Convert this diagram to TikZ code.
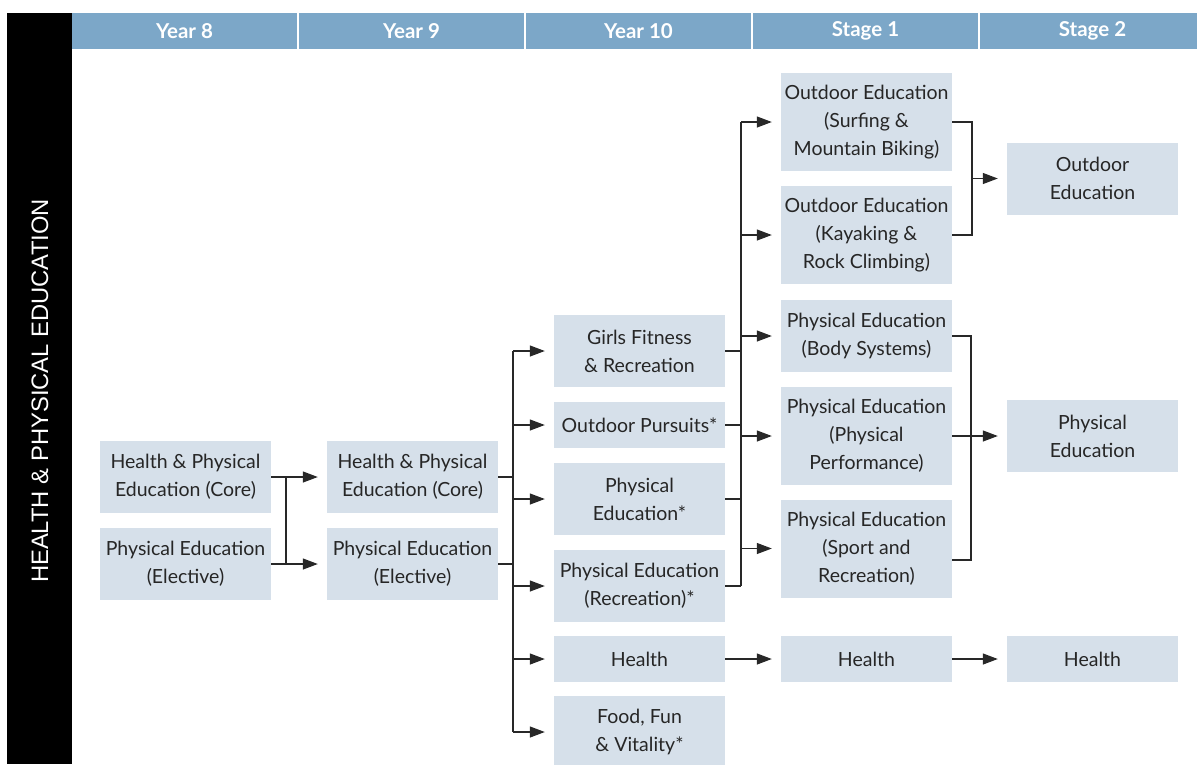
\documentclass[tikz,border=0pt]{standalone}
\usepackage{fontspec}
\setmainfont{Lato}
\newfontfamily\sidefont{Liberation Sans}
\usetikzlibrary{arrows.meta}

\definecolor{headblue}{RGB}{124,167,200}
\definecolor{boxblue}{RGB}{214,224,234}
\definecolor{linegrey}{RGB}{40,40,40}

% column centres of the course boxes
\def\colA{185.5}
\def\colB{412.5}
\def\colC{639.5}
\def\colD{866.5}
\def\colE{1092.5}

\begin{document}
\begin{tikzpicture}[x=1pt,y=-1pt,
  course/.style={fill=boxblue, text=black!85, minimum width=171pt, minimum height=72pt,
    inner sep=0pt, align=center, font=\fontsize{19.5}{28}\selectfont},
  oneline/.style={minimum height=46pt},
  threeline/.style={minimum height=98pt},
  yearhead/.style={fill=headblue, text=white, minimum width=225pt, minimum height=36pt,
    inner sep=0pt, font=\fontsize{20.5}{22}\selectfont\bfseries},
  link/.style={draw=linegrey, line width=1.2pt},
  feed/.style={link, -{Triangle[length=15pt,width=11pt]}, shorten >=9pt}]
  \useasboundingbox (0,0) rectangle (1197,764);

  % side bar and year headings
  \fill[black] (7,13) rectangle (72,764);
  \node[rotate=90, text=white, font=\sidefont\fontsize{23.8}{24}\selectfont] (side) at (40,391)
    {HEALTH \& PHYSICAL EDUCATION};
  \foreach \lbl [count=\i] in {Year 8, Year 9, Year 10, Stage 1, Stage 2}
    \node[yearhead] (head\i) at ({184.5+227*(\i-1)},31) {\lbl};

  % Year 8 and Year 9
  \node[course] (y8core) at (\colA,477) {Health \& Physical\\Education (Core)};
  \node[course] (y8elec) at (\colA,564) {Physical Education\\(Elective)};
  \node[course] (y9core) at (\colB,477) {Health \& Physical\\Education (Core)};
  \node[course] (y9elec) at (\colB,564) {Physical Education\\(Elective)};

  % Year 10
  \node[course] (girls) at (\colC,351) {Girls Fitness\\\& Recreation};
  \node[course, oneline] (outdoor) at (\colC,425) {Outdoor Pursuits*};
  \node[course] (pe) at (\colC,499) {Physical\\Education*};
  \node[course] (perec) at (\colC,586) {Physical Education\\(Recreation)*};
  \node[course, oneline] (health) at (\colC,659) {Health};
  \node[course] (food) at (\colC,732) {Food, Fun\\\& Vitality*};

  % Stage 1
  \node[course, threeline] (surf) at (\colD,122) {Outdoor Education\\(Surfing \&\\Mountain Biking)};
  \node[course, threeline] (kayak) at (\colD,235) {Outdoor Education\\(Kayaking \&\\Rock Climbing)};
  \node[course] (body) at (\colD,336) {Physical Education\\(Body Systems)};
  \node[course, threeline] (perf) at (\colD,436) {Physical Education\\(Physical\\Performance)};
  \node[course, threeline] (sport) at (\colD,548.5) {Physical Education\\(Sport and\\Recreation)};
  \node[course, oneline] (s1health) at (\colD,659) {Health};

  % Stage 2
  \node[course] (s2oe) at (\colE,178.5) {Outdoor\\Education};
  \node[course] (s2pe) at (\colE,436) {Physical\\Education};
  \node[course, oneline] (s2health) at (\colE,659) {Health};

  % Year 8 to Year 9
  \coordinate (j8a) at (286,477);
  \coordinate (j8b) at (286,564);
  \draw[link] (y8core.east) -- (j8a) -- (j8b) -- (y8elec.east);
  \draw[feed] (j8a) -- (y9core.west);
  \draw[feed] (j8b) -- (y9elec.west);

  % Year 9 to Year 10
  \coordinate (t9) at (513,351);
  \coordinate (b9) at (513,732);
  \draw[link] (t9) -- (b9);
  \draw[link] (y9core.east) -- (y9core.east -| t9);
  \draw[link] (y9elec.east) -- (y9elec.east -| t9);
  \foreach \n in {girls,outdoor,pe,perec,health,food}
    \draw[feed] (\n.west -| t9) -- (\n.west);

  % Year 10 to Stage 1
  \coordinate (t10) at (741,122);
  \coordinate (b10) at (741,586);
  \draw[link] (t10) -- (b10);
  \foreach \n in {girls,outdoor,pe,perec}
    \draw[link] (\n.east) -- (\n.east -| t10);
  \foreach \n in {surf,kayak,body,perf,sport}
    \draw[feed] (\n.west -| t10) -- (\n.west);
  \draw[feed] (health.east) -- (s1health.west);

  % Stage 1 to Stage 2
  \coordinate (oe1) at (972,122);
  \coordinate (oe2) at (972,235);
  \draw[link] (surf.east) -- (oe1) -- (oe2) -- (kayak.east);
  \draw[feed] (s2oe.west -| oe1) -- (s2oe.west);
  \coordinate (pe1) at (971,336);
  \coordinate (pe2) at (971,560);
  \draw[link] (body.east) -- (pe1) -- (pe2) -- (sport.east |- pe2);
  \draw[feed] (perf.east) -- (s2pe.west);
  \draw[feed] (s1health.east) -- (s2health.west);
\end{tikzpicture}
\end{document}
